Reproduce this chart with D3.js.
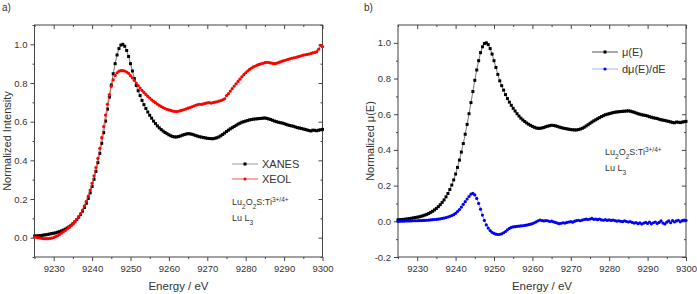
<html>
<head>
<style>
  body { margin: 0; background: white; font-family: "Liberation Sans", Arial, Helvetica, sans-serif; }
  svg { display: block; }
  .axis text { font-size: 9.5px; fill: #333; font-family: "Liberation Sans", Arial, sans-serif; }
  .axis line { stroke: #444; stroke-width: 1; }
  .axis path { display: none; }
  .label { fill: #333; }
</style>
<script src="https://cdn.jsdelivr.net/npm/d3@7"></script>
</head>
<body>
<svg id="chart" width="697" height="294"></svg>
<script>
// energy grid of the scan (0.5 eV steps)
let energy = d3.range(9225, 9300.25, 0.5)

// normalized XANES, mu(E) - one row per 5 eV
let xanes = [
  0.008,0.009,0.010,0.011,0.012,0.014,0.015,0.017,0.019,0.021,
  0.023,0.025,0.028,0.031,0.035,0.039,0.044,0.050,0.056,0.064,
  0.072,0.082,0.093,0.106,0.120,0.137,0.156,0.178,0.203,0.232,
  0.265,0.302,0.343,0.388,0.436,0.488,0.543,0.603,0.665,0.727,
  0.790,0.848,0.900,0.945,0.978,0.996,1.000,0.990,0.968,0.937,
  0.900,0.862,0.823,0.787,0.760,0.735,0.710,0.688,0.668,0.650,
  0.633,0.618,0.603,0.590,0.578,0.568,0.559,0.551,0.544,0.538,
  0.532,0.527,0.523,0.521,0.521,0.523,0.526,0.530,0.533,0.536,
  0.538,0.537,0.535,0.532,0.528,0.525,0.522,0.520,0.518,0.516,
  0.514,0.513,0.512,0.512,0.514,0.517,0.521,0.527,0.534,0.541,
  0.549,0.556,0.563,0.569,0.575,0.581,0.587,0.592,0.597,0.600,
  0.603,0.606,0.609,0.611,0.613,0.614,0.615,0.616,0.617,0.618,
  0.619,0.617,0.614,0.611,0.607,0.603,0.600,0.597,0.595,0.593,
  0.590,0.586,0.583,0.580,0.578,0.576,0.572,0.569,0.567,0.565,
  0.562,0.560,0.557,0.554,0.552,0.556,0.555,0.553,0.556,0.558,
  0.560
]

// XEOL yield
let xeol = [
  0.004,0.002,0.000,-0.002,-0.004,-0.005,-0.005,-0.005,-0.004,-0.002,
  0.001,0.005,0.010,0.016,0.023,0.030,0.037,0.045,0.053,0.062,
  0.072,0.083,0.095,0.109,0.125,0.143,0.164,0.188,0.215,0.246,
  0.281,0.320,0.363,0.410,0.462,0.517,0.575,0.634,0.690,0.740,
  0.783,0.816,0.839,0.853,0.861,0.864,0.864,0.862,0.857,0.850,
  0.838,0.826,0.813,0.800,0.787,0.774,0.762,0.751,0.741,0.731,
  0.722,0.713,0.705,0.698,0.691,0.684,0.678,0.673,0.668,0.664,
  0.661,0.658,0.655,0.653,0.652,0.654,0.657,0.660,0.663,0.666,
  0.670,0.673,0.677,0.681,0.685,0.688,0.690,0.689,0.692,0.695,
  0.697,0.698,0.696,0.699,0.701,0.703,0.706,0.709,0.713,0.718,
  0.735,0.745,0.758,0.771,0.784,0.796,0.808,0.820,0.832,0.843,
  0.853,0.862,0.870,0.877,0.883,0.888,0.892,0.896,0.899,0.902,
  0.905,0.907,0.906,0.904,0.902,0.900,0.902,0.905,0.909,0.913,
  0.916,0.919,0.922,0.925,0.928,0.930,0.932,0.935,0.938,0.941,
  0.944,0.946,0.948,0.950,0.953,0.956,0.958,0.962,0.975,0.995,
  0.988
]

// first derivative d mu(E)/dE
let deriv = [
  0.000,0.001,0.001,0.001,0.002,0.002,0.002,0.002,0.003,0.003,
  0.003,0.004,0.004,0.005,0.005,0.006,0.007,0.008,0.009,0.010,
  0.011,0.012,0.014,0.016,0.018,0.021,0.024,0.028,0.032,0.037,
  0.045,0.055,0.066,0.080,0.095,0.110,0.125,0.139,0.152,0.157,
  0.148,0.128,0.100,0.068,0.035,0.005,-0.020,-0.038,-0.052,-0.062,
  -0.068,-0.072,-0.074,-0.073,-0.070,-0.064,-0.057,-0.048,-0.040,-0.034,
  -0.031,-0.030,-0.028,-0.027,-0.026,-0.025,-0.023,-0.021,-0.019,-0.016,
  -0.013,-0.008,-0.003,0.003,0.007,0.004,0.002,0.004,0.003,-0.001,
  0.001,-0.003,-0.006,-0.010,-0.013,-0.011,-0.008,-0.010,-0.006,-0.004,
  -0.002,-0.005,0.001,0.004,0.006,0.003,0.007,0.010,0.012,0.010,
  0.013,0.016,0.011,0.012,0.009,0.013,0.008,0.006,0.009,0.005,
  0.008,0.005,0.007,0.004,0.001,0.003,0.000,-0.002,0.003,-0.001,
  -0.004,-0.001,-0.006,-0.010,-0.007,-0.013,-0.009,-0.015,-0.010,-0.006,
  -0.012,-0.005,-0.014,-0.008,-0.004,-0.012,-0.006,0.002,-0.010,-0.015,
  -0.005,0.003,-0.008,0.004,-0.004,0.002,0.006,-0.003,0.004,0.007,
  0.005
]

let xTicks = [9230, 9240, 9250, 9260, 9270, 9280, 9290, 9300]
let xMinor = [9225, 9235, 9245, 9255, 9265, 9275, 9285, 9295]
let yTicksA = [0.0, 0.2, 0.4, 0.6, 0.8, 1.0]
let yMinorA = [-0.1, 0.1, 0.3, 0.5, 0.7, 0.9, 1.1]
let yTicksB = [-0.2, 0.0, 0.2, 0.4, 0.6, 0.8, 1.0]
let yMinorB = [-0.1, 0.1, 0.3, 0.5, 0.7, 0.9]

let svg = d3.select('#chart')

function getPanelConfig(left, right, yDomain, yTicks, yMinor) {
  let top = 25
  let bottom = 257
  let xScale = d3.scaleLinear().domain([9225, 9300]).range([left, right])
  let yScale = d3.scaleLinear().domain(yDomain).range([bottom, top])
  return { left, right, top, bottom, xScale, yScale, yTicks, yMinor }
}

function drawAxes(p, yTitle, tag) {
  let fmt = d => d.toFixed(1)
  let { xScale, yScale, left, right, top, bottom } = p

  // bottom + left: ticks outside, with labels
  svg.append('g').attr('class', 'axis').attr('transform', `translate(0,${bottom})`)
    .call(d3.axisBottom(xScale).tickValues(xTicks).tickFormat(d => d).tickSize(4).tickPadding(4))
  svg.append('g').attr('class', 'axis').attr('transform', `translate(0,${bottom})`)
    .call(d3.axisBottom(xScale).tickValues(xMinor).tickFormat('').tickSize(2))
  svg.append('g').attr('class', 'axis').attr('transform', `translate(${left},0)`)
    .call(d3.axisLeft(yScale).tickValues(p.yTicks).tickFormat(fmt).tickSize(4).tickPadding(3))
  svg.append('g').attr('class', 'axis').attr('transform', `translate(${left},0)`)
    .call(d3.axisLeft(yScale).tickValues(p.yMinor).tickFormat('').tickSize(2))

  // top + right: mirrored ticks pointing in
  svg.append('g').attr('class', 'axis').attr('transform', `translate(0,${top})`)
    .call(d3.axisTop(xScale).tickValues(xTicks).tickFormat('').tickSize(-4))
  svg.append('g').attr('class', 'axis').attr('transform', `translate(0,${top})`)
    .call(d3.axisTop(xScale).tickValues(xMinor).tickFormat('').tickSize(-2))
  svg.append('g').attr('class', 'axis').attr('transform', `translate(${right},0)`)
    .call(d3.axisRight(yScale).tickValues(p.yTicks).tickFormat('').tickSize(-4))
  svg.append('g').attr('class', 'axis').attr('transform', `translate(${right},0)`)
    .call(d3.axisRight(yScale).tickValues(p.yMinor).tickFormat('').tickSize(-2))

  svg.append('rect')
    .attr('x', left).attr('y', top)
    .attr('width', right - left).attr('height', bottom - top)
    .attr('fill', 'none').attr('stroke', '#444').attr('stroke-width', 1)

  svg.append('text').attr('class', 'label')
    .attr('x', (left + right) / 2).attr('y', 290)
    .attr('text-anchor', 'middle').style('font-size', '11.5px')
    .text('Energy / eV')

  let yt = svg.append('text').attr('class', 'label')
    .attr('transform', `translate(${left - 24},${(top + bottom) / 2}) rotate(-90)`)
    .attr('text-anchor', 'middle').style('font-size', '11px')
  yt.text(yTitle)

  svg.append('text').attr('class', 'label')
    .attr('x', tag.x).attr('y', 11).style('font-size', '10px')
    .text(tag.text)
}

function drawSeries(p, values, color, lineColor, shape) {
  let pts = energy.map((e, i) => [e, values[i]])
  let line = d3.line().x(d => p.xScale(d[0])).y(d => p.yScale(d[1]))
  svg.append('path').datum(pts)
    .attr('d', line).attr('fill', 'none')
    .attr('stroke', lineColor).attr('stroke-width', 0.8)
  let g = svg.append('g').attr('fill', color)
  if (shape === 'square') {
    g.selectAll('rect').data(pts).enter().append('rect')
      .attr('x', d => p.xScale(d[0]) - 1.5).attr('y', d => p.yScale(d[1]) - 1.5)
      .attr('width', 3).attr('height', 3)
  } else {
    g.selectAll('circle').data(pts).enter().append('circle')
      .attr('cx', d => p.xScale(d[0])).attr('cy', d => p.yScale(d[1]))
      .attr('r', 1.6)
  }
}

function legendItem(x, y, label, color, lineColor, shape) {
  svg.append('line').attr('x1', x).attr('x2', x + 26).attr('y1', y).attr('y2', y)
    .attr('stroke', lineColor).attr('stroke-width', 1)
  if (shape === 'square') {
    svg.append('rect').attr('x', x + 11.5).attr('y', y - 1.5).attr('width', 3).attr('height', 3).attr('fill', color)
  } else {
    svg.append('circle').attr('cx', x + 13).attr('cy', y).attr('r', 1.6).attr('fill', color)
  }
  svg.append('text').attr('class', 'label').attr('x', x + 30).attr('y', y + 4)
    .style('font-size', '11px').text(label)
}

function sampleLabel(x, y) {
  let t = svg.append('text').attr('class', 'label').attr('x', x).attr('y', y).style('font-size', '9px')
  t.append('tspan').text('Lu')
  t.append('tspan').attr('baseline-shift', 'sub').style('font-size', '6.5px').text('2')
  t.append('tspan').text('O')
  t.append('tspan').attr('baseline-shift', 'sub').style('font-size', '6.5px').text('2')
  t.append('tspan').text('S:Ti')
  t.append('tspan').attr('baseline-shift', 'super').style('font-size', '6.5px').text('3+/4+')
  let t2 = svg.append('text').attr('class', 'label').attr('x', x).attr('y', y + 16).style('font-size', '9px')
  t2.append('tspan').text('Lu L')
  t2.append('tspan').attr('baseline-shift', 'sub').style('font-size', '6.5px').text('3')
}

// panel a: XANES vs XEOL
let pa = getPanelConfig(34.5, 322.5, [-0.1, 1.1], yTicksA, yMinorA)
drawAxes(pa, 'Normalized Intensity', { x: 2, text: 'a)' })
drawSeries(pa, xanes, '#000', '#555', 'square')
drawSeries(pa, xeol, '#f00', '#f44', 'circle')
legendItem(232, 164, 'XANES', '#000', '#999', 'square')
legendItem(232, 179, 'XEOL', '#f00', '#f55', 'circle')
sampleLabel(232, 205)

// panel b: mu(E) and its derivative
let pb = getPanelConfig(398, 686, [-0.2, 1.1], yTicksB, yMinorB)
drawAxes(pb, 'Normalized \u03bc(E)', { x: 364, text: 'b)' })
drawSeries(pb, xanes, '#000', '#555', 'square')
drawSeries(pb, deriv, '#00f', '#88f', 'circle')
legendItem(592, 52, '\u03bc(E)', '#000', '#555', 'square')
legendItem(592, 69, 'd\u03bc(E)/dE', '#00f', '#aab4ff', 'circle')
sampleLabel(605, 155)
</script>
</body>
</html>
